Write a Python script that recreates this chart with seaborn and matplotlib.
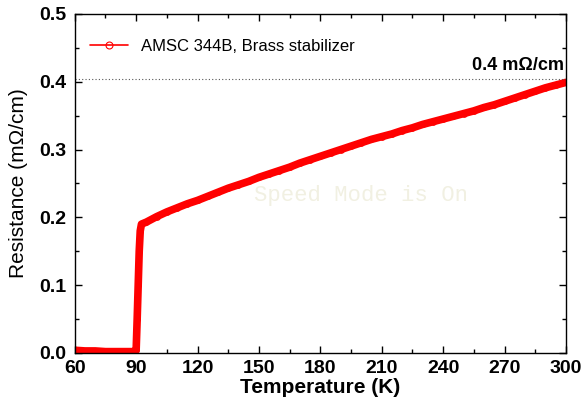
import matplotlib
matplotlib.use("Agg")
import matplotlib.pyplot as plt
from matplotlib.lines import Line2D
from matplotlib.ticker import MultipleLocator
import seaborn as sns
import pandas as pd

# temperature (K) and resistance (mOhm/cm)
temperature = [60, 65, 70, 75, 80, 85, 89, 90, 90.5, 91, 91.5, 92, 92.6,
               95, 100, 105, 110, 115, 120, 125, 130, 135, 140, 145, 150,
               155, 160, 165, 170, 175, 180, 185, 190, 195, 200, 205, 210,
               215, 220, 225, 230, 235, 240, 245, 250, 255, 260, 265, 270,
               275, 280, 285, 290, 295, 300]
resistance = [0.004, 0.003, 0.003, 0.002, 0.002, 0.002, 0.002, 0.004, 0.05,
              0.10, 0.15, 0.18, 0.190,
              0.193, 0.201, 0.208, 0.214, 0.220, 0.225, 0.231, 0.237, 0.243,
              0.248, 0.253, 0.259, 0.264, 0.269, 0.274, 0.280, 0.285, 0.290,
              0.295, 0.300, 0.305, 0.310, 0.315, 0.319, 0.323, 0.328, 0.332,
              0.337, 0.341, 0.345, 0.349, 0.353, 0.357, 0.362, 0.366, 0.371,
              0.376, 0.381, 0.386, 0.391, 0.395, 0.399]
series_label = "AMSC 344B, Brass stabilizer"
ref_level = 0.404

df = pd.DataFrame({"T": temperature, "R": resistance})

sns.set_style("ticks", {"axes.edgecolor": "black", "text.color": "black",
                        "axes.labelcolor": "black", "xtick.color": "black",
                        "ytick.color": "black"})
plt.rcParams["font.family"] = ["Liberation Sans", "DejaVu Sans"]

fig = plt.figure(figsize=(5.84, 4.09), dpi=100)
ax = fig.add_axes([0.128, 0.137, 0.841, 0.829])

sns.lineplot(data=df, x="T", y="R", ax=ax, color="#ff0000", linewidth=5.5,
             marker="o", markersize=4, markerfacecolor="none",
             markeredgecolor="#ff0000", markeredgewidth=0.8,
             sort=False, legend=False)

ax.axhline(ref_level, color="#555555", linestyle=(0, (1, 2)), linewidth=0.8)
ax.text(299, ref_level + 0.008, "0.4 m\u03a9/cm", ha="right", va="bottom",
        fontsize=13, fontweight="bold")

ax.text(200, 0.232, "Speed Mode is On", fontsize=16, color="#f1f0e2",
        family="Liberation Mono", ha="center", va="center", zorder=0)

ax.set_xlim(60, 300)
ax.set_ylim(0, 0.5)
ax.xaxis.set_major_locator(MultipleLocator(30))
ax.xaxis.set_minor_locator(MultipleLocator(15))
ax.yaxis.set_major_locator(MultipleLocator(0.1))
ax.yaxis.set_minor_locator(MultipleLocator(0.05))
ax.yaxis.set_major_formatter(plt.FormatStrFormatter("%.1f"))
ax.tick_params(which="both", direction="in", top=True, right=True,
               width=1, labelsize=14, colors="black")
ax.tick_params(axis="x", pad=5)
ax.tick_params(axis="y", pad=6)
ax.tick_params(which="major", length=5)
ax.tick_params(which="minor", length=3)
for lab in ax.get_xticklabels() + ax.get_yticklabels():
    lab.set_fontweight("bold")
for s in ax.spines.values():
    s.set_linewidth(1)
    s.set_color("black")

ax.set_xlabel("Temperature (K)", fontsize=15, fontweight="bold", labelpad=1)
ax.set_ylabel("Resistance (m\u03a9/cm)", fontsize=15, labelpad=8)

handle = Line2D([], [], color="#ff0000", linewidth=1.2, marker="o",
                markersize=5, markerfacecolor="none",
                markeredgecolor="#ff0000", markeredgewidth=0.8)
ax.legend([handle], [series_label], loc="upper left", frameon=False,
          fontsize=12, handlelength=2.3, bbox_to_anchor=(0.0, 0.97))

fig.savefig("out.png", dpi=100)
